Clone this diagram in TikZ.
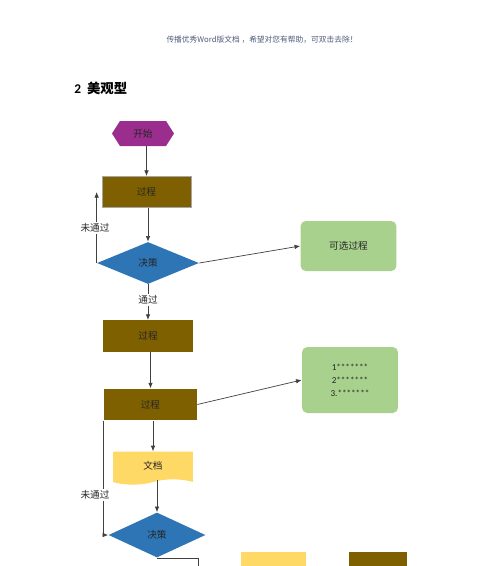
\documentclass[tikz,border=0pt]{standalone}
\usepackage{fontspec}
\setmainfont{Carlito}
\newfontfamily\cjk{Noto Sans CJK SC}
\usetikzlibrary{arrows.meta,shapes.geometric,shapes.symbols}

\definecolor{startpurple}{HTML}{9B2D8E}
\definecolor{procbrown}{HTML}{7F6000}
\definecolor{decblue}{HTML}{2E75B6}
\definecolor{optgreen}{HTML}{A9D18E}
\definecolor{docyellow}{HTML}{FFD966}
\definecolor{headgray}{HTML}{4F5B7A}

\tikzset{
  flow/.style={font=\cjk\fontsize{5.5}{6.5}\selectfont, text=black!85, inner sep=0pt},
  startbox/.style={flow, signal, signal to=west and east, signal pointer angle=115,
    fill=startpurple, minimum width=1.24cm, minimum height=0.5cm},
  procbox/.style={flow, rectangle, fill=procbrown, minimum width=#1, minimum height=0.63cm},
  decbox/.style={flow, diamond, fill=decblue, minimum width=#1, minimum height=0.84cm, aspect=2.3},
  docbox/.style={flow, tape, tape bend top=none, tape bend bottom=in and out,
    tape bend height=3pt, fill=docyellow, minimum width=1.6cm, minimum height=0.66cm},
  optbox/.style={flow, rectangle, rounded corners=3pt, fill=optgreen, minimum width=1.92cm},
  looplabel/.style={font=\cjk\fontsize{5.5}{6.5}\selectfont, text=black!85, fill=white, inner sep=1pt},
  line/.style={draw=black!75, line width=0.4pt},
  arr/.style={line, -{Latex[length=3.2pt,width=2.6pt]}}
}

\begin{document}
\begin{tikzpicture}[x=0.02cm, y=-0.02cm]
  \useasboundingbox (0,0) rectangle (500,566);
  \clip (0,0) rectangle (500,566);

  % Header and heading
  \node[font=\cjk\fontsize{4.4}{5}\selectfont, text=headgray] (header) at (262,40)
    {传播优秀Word版文档 ，希望对您有帮助，可双击去除！};
  \node[anchor=west, font=\fontsize{7.6}{9}\selectfont\bfseries, inner sep=0pt] (title) at (74,88)
    {2\hspace{0.45em}{\cjk\bfseries 美观型}};

  % Main chain
  \node[startbox] (start) at (143,133.5) {开始};
  \node[procbox=1.78cm, draw=black!35, line width=0.3pt] (proc1) at (146.5,192) {过程};
  \node[decbox=2.04cm] (dec1) at (148,263) {决策};
  \node[looplabel] (pass) at (148,300) {通过};
  \node[procbox=1.8cm] (proc2) at (148,336) {过程};
  \node[procbox=1.86cm] (proc3) at (150.5,404.5) {过程};
  \node[docbox] (doc) at (153,465.5) {文档};
  \node[decbox=1.94cm, minimum height=0.9cm] (dec2) at (157,535) {决策};

  % Side boxes
  \node[optbox, minimum height=1cm] (opt) at (348.5,246) {可选过程};
  \node[optbox, minimum height=1.32cm, align=center, font=\fontsize{5.2}{7.4}\selectfont]
    (list) at (350,380) {1*******\\2*******\\3.*******};

  % Cut-off shapes at the bottom
  \fill[docyellow] (241,552) rectangle (306,570);
  \fill[procbrown] (349,552) rectangle (407,570);

  % Arrows down the chain
  \draw[arr] (proc1.north |- start.south) -- (proc1.north);
  \draw[arr] (dec1.north |- proc1.south) -- (dec1.north);
  \draw[line] (dec1.south) -- (pass);
  \draw[arr] (pass) -- (proc2.north |- pass.south) -- (proc2.north);
  \draw[arr] (proc3.north |- proc2.south) -- (proc3.north);
  \draw[arr] (doc.north |- proc3.south) -- (doc.north);
  \draw[arr] (dec2.north |- doc.south) -- (dec2.north);

  % Arrows to the side boxes
  \draw[arr] (dec1.east) -- (opt.west);
  \draw[arr] (proc3.east) -- (list.west);

  % Loops back
  \draw[arr] (dec1.west) -- (dec1.west |- proc1.west);
  \node[looplabel] (fail1) at (95,228) {未通过};
  \draw[arr] (proc3.south west) |- (dec2.west);
  \node[looplabel] (fail2) at (95,495) {未通过};

  % Exit below
  \coordinate (exit) at (198,580);
  \draw[line] (dec2.south) -| (exit);
\end{tikzpicture}
\end{document}
